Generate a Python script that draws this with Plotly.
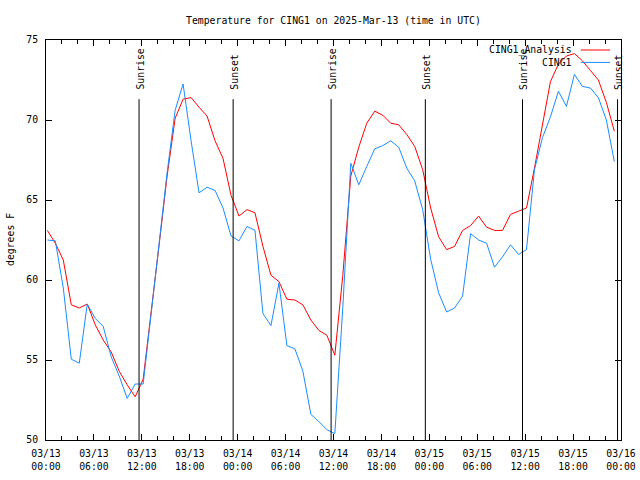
import pandas as pd
import plotly.graph_objects as go

# ---- data (hourly samples, ~10 min past the hour, UTC) ----
start_time = "2025-03-13 00:10"
n_points = 72

cing1 = [62.5, 62.45, 59.5, 55.05, 54.8, 58.5, 57.6, 57.1, 55.2, 54.0, 52.6, 53.5,
         53.5, 57.9, 62.3, 66.7, 70.6, 72.25, 68.7, 65.45, 65.8, 65.6, 64.5, 62.75,
         62.45, 63.35, 63.1, 57.9, 57.15, 59.8, 55.9, 55.7, 54.3, 51.6, 51.15, 50.65,
         50.4, 58.3, 67.3, 65.95, 67.1, 68.2, 68.4, 68.7, 68.3, 67.0, 66.2, 64.4,
         61.3, 59.2, 58.0, 58.25, 59.0, 62.9, 62.5, 62.3, 60.8, 61.45, 62.2, 61.6,
         61.9, 66.9, 68.9, 70.2, 71.8, 70.85, 72.85, 72.1, 72.0, 71.4, 70.0, 67.4]

cing1_analysis = [63.1, 62.3, 61.25, 58.45, 58.25, 58.5, 57.2, 56.25, 55.5, 54.3, 53.45, 52.7,
                  53.8, 57.9, 62.2, 66.5, 70.1, 71.3, 71.4, 70.8, 70.25, 68.7, 67.6, 65.3,
                  64.0, 64.4, 64.2, 62.1, 60.3, 59.9, 58.8, 58.75, 58.45, 57.5, 56.85, 56.55,
                  55.3, 60.3, 66.5, 68.3, 69.8, 70.55, 70.3, 69.8, 69.7, 69.1, 68.35, 66.9,
                  64.5, 62.7, 61.9, 62.1, 63.1, 63.4, 64.0, 63.3, 63.1, 63.1, 64.1, 64.3,
                  64.5, 67.0, 69.8, 72.4, 73.5, 74.0, 74.15, 73.7, 73.1, 72.5, 71.1, 69.3]

sun_events = [("2025-03-13 11:39", "Sunrise"), ("2025-03-13 23:26", "Sunset"),
              ("2025-03-14 11:42", "Sunrise"), ("2025-03-14 23:30", "Sunset"),
              ("2025-03-15 11:40", "Sunrise"), ("2025-03-15 23:34", "Sunset")]

tick_times = pd.date_range("2025-03-13 00:00", "2025-03-16 00:00", freq="6h")
tick_labels = [t.strftime("%m/%d<br>%H:%M") for t in tick_times]
y_ticks = [50, 55, 60, 65, 70, 75]

title_text = "Temperature for CING1 on 2025-Mar-13 (time in UTC)"
y_title = "degrees F"
series_names = ["CING1_Analysis", "CING1"]
series_colors = ["#ff0000", "#1a8cff"]

times = pd.date_range(start_time, periods=n_points, freq="1h")

FONT = dict(family="DejaVu Sans Mono", size=9.8, color="black")

fig = go.Figure()
fig.add_trace(go.Scatter(x=times, y=cing1_analysis, mode="lines", name=series_names[0],
                         line=dict(color=series_colors[0], width=1)))
fig.add_trace(go.Scatter(x=times, y=cing1, mode="lines", name=series_names[1],
                         line=dict(color=series_colors[1], width=1)))

shapes = []
annotations = []
for t, label in sun_events:
    shapes.append(dict(type="line", xref="x", yref="paper", x0=t, x1=t, y0=0, y1=0.852,
                       line=dict(color="black", width=1)))
    annotations.append(dict(x=t, xref="x", y=0.87, yref="paper", text=label,
                            textangle=-90, showarrow=False, xanchor="center",
                            yanchor="bottom", xshift=1, font=FONT))

# legend (gnuplot style: text left, sample right)
leg_y = [0.975, 0.944]
for name, color, yy in zip(series_names, series_colors, leg_y):
    annotations.append(dict(x=0.918, xref="paper", y=yy, yref="paper", text=name,
                            showarrow=False, xanchor="right", yanchor="middle", font=FONT))
    shapes.append(dict(type="line", xref="paper", yref="paper", x0=0.930, x1=0.981,
                       y0=yy, y1=yy, line=dict(color=color, width=1)))

annotations.append(dict(x=0, xref="paper", y=0.5, yref="paper", text=y_title,
                        textangle=-90, showarrow=False, xanchor="center", yanchor="middle",
                        xshift=-36, font=FONT))
annotations.append(dict(x=0.5, xref="paper", y=1, yref="paper", text=title_text,
                        showarrow=False, xanchor="center", yanchor="middle",
                        yshift=20, font=FONT))

fig.update_layout(
    width=640, height=480,
    margin=dict(l=46, r=19, t=40, b=40, pad=0, autoexpand=False),
    paper_bgcolor="white", plot_bgcolor="white",
    showlegend=False,
    font=FONT,
    shapes=shapes, annotations=annotations,
)
fig.update_xaxes(
    range=["2025-03-13 00:00", "2025-03-16 00:00"],
    tickmode="array", tickvals=tick_times, ticktext=tick_labels,
    ticks="inside", ticklen=6, tickcolor="black", tickwidth=1,
    minor=dict(ticks="inside", ticklen=4, dtick=2 * 3600 * 1000, tickcolor="black",
               showgrid=False),
    showline=True, linecolor="black", linewidth=1, mirror="ticks",
    showgrid=False, zeroline=False, tickfont=FONT, automargin=False,
    ticklabelstandoff=4,
)
fig.update_yaxes(
    range=[50, 75], tickmode="array", tickvals=y_ticks,
    ticks="inside", ticklen=6, tickcolor="black", tickwidth=1,
    showline=True, linecolor="black", linewidth=1, mirror="ticks",
    showgrid=False, zeroline=False, tickfont=FONT, automargin=False,
    ticklabelstandoff=5,
)

fig.write_html("out.html",
               config={"displayModeBar": False},
               post_script="document.body.style.margin='0';document.body.style.overflow='hidden';")
